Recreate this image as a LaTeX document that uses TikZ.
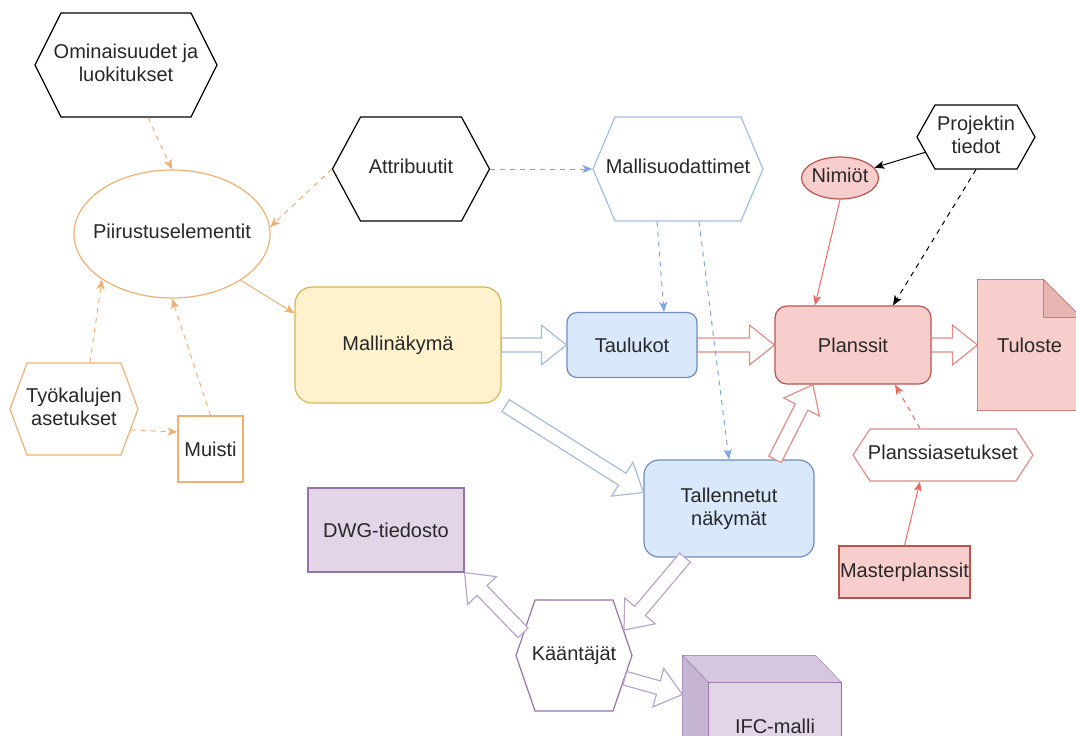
\documentclass[tikz,border=0pt]{standalone}
\usepackage{fontspec}
\setmainfont{Liberation Sans}
\usetikzlibrary{shapes.geometric,shapes.symbols,arrows.meta,calc,backgrounds}
\definecolor{txt}{RGB}{40,40,40}
\definecolor{orline}{RGB}{240,176,116}
\definecolor{yefill}{RGB}{255,242,204}
\definecolor{yeline}{RGB}{214,182,86}
\definecolor{blfill}{RGB}{218,232,252}
\definecolor{blline}{RGB}{108,142,191}
\definecolor{bllight}{RGB}{160,190,230}
\definecolor{bldash}{RGB}{126,166,224}
\definecolor{blarrow}{RGB}{165,188,218}
\definecolor{refill}{RGB}{248,206,204}
\definecolor{reline}{RGB}{184,84,80}
\definecolor{relight}{RGB}{224,140,136}
\definecolor{reedge}{RGB}{234,107,102}
\definecolor{refold}{RGB}{232,180,178}
\definecolor{pufill}{RGB}{225,213,231}
\definecolor{puline}{RGB}{150,115,166}
\definecolor{pulight}{RGB}{185,165,205}
\definecolor{putop}{RGB}{213,199,222}
\definecolor{puside}{RGB}{198,181,210}

\tikzset{
  every node/.style={text=txt, font=\fontsize{20}{23}\selectfont, align=center, inner sep=0pt},
  hexa/.style={shape=signal, signal to=east and west, signal pointer angle=#1, draw, fill=white},
  roundbox/.style={rectangle, rounded corners=#1, draw},
  dashedge/.style={line width=1pt, dash pattern=on 5pt off 5pt, -{Stealth[length=10pt,width=8pt,inset=2.5pt]}},
  solidedge/.style={line width=1pt, -{Stealth[length=10pt,width=8pt,inset=2.5pt]}},
}
\newcommand{\hextext}[1]{\makebox[0pt]{\begin{tabular}{@{}c@{}}#1\end{tabular}}}
% hollow block arrow: colour, start, end
\newcommand{\flexarrow}[3]{%
  \path (#2) coordinate (fastart) (#3) coordinate (faend);
  \pgfpointdiff{\pgfpointanchor{fastart}{center}}{\pgfpointanchor{faend}{center}}%
  \pgfgetlastxy{\fadx}{\fady}%
  \pgfmathsetmacro{\faang}{atan2(\fady,\fadx)}%
  \pgfmathsetmacro{\falen}{veclen(\fadx,\fady)}%
  \draw[#1, fill=white, line width=1.2pt, shift={(fastart)}, rotate=\faang]
    (0pt,-7pt) -- ({\falen pt-25pt},-7pt) -- ({\falen pt-25pt},-20pt) -- (\falen pt,0pt)
    -- ({\falen pt-25pt},20pt) -- ({\falen pt-25pt},7pt) -- (0pt,7pt) -- cycle;
}

\begin{document}
\begin{tikzpicture}[x=1pt, y=-1pt, line width=1.2pt]
\useasboundingbox (0,0) rectangle (1076,736);

\node[hexa=126.9, minimum width=182, minimum height=104] (omin) at (126,65) {\hextext{Ominaisuudet ja\\luokitukset}};
\node[ellipse, draw=orline, fill=white, minimum width=196, minimum height=128] (piir) at (172,234) {\hextext{Piirustuselementit}};
\node[hexa=123.4, minimum width=157, minimum height=104] (attr) at (411,169) {\hextext{Attribuutit}};
\node[hexa=134.1, draw=bllight, minimum width=170, minimum height=104] (malls) at (678,169) {\hextext{Mallisuodattimet}};
\node[roundbox=17, draw=yeline, fill=yefill, minimum width=206, minimum height=116] (malli) at (398,345) {Mallinäkymä};
\node[roundbox=10, draw=blline, fill=blfill, minimum width=130, minimum height=65] (taul) at (632,345) {Taulukot};
\node[roundbox=12, draw=reline, fill=refill, minimum width=156, minimum height=78] (plans) at (853,345) {Planssit};
\node[minimum width=103, minimum height=130] (tulo) at (1029.5,345) {Tuloste};
\node[ellipse, draw=reline, fill=refill, minimum width=77, minimum height=42] (nimi) at (840,178) {\hextext{Nimiöt}};
\node[hexa=121.3, minimum width=118, minimum height=64] (proj) at (976,137) {\hextext{Projektin\\tiedot}};
\node[hexa=139.4, draw=orline, minimum width=128, minimum height=92] (tyok) at (74,409) {\hextext{Työkalujen\\asetukset}};
\node[rectangle, draw=orline, fill=white, minimum width=65, minimum height=66] (muis) at (210.5,449) {Muisti};
\node[roundbox=15, draw=blline, fill=blfill, minimum width=170, minimum height=97] (tall) at (729,508.5) {Tallennetut\\näkymät};
\node[rectangle, draw=puline, fill=pufill, minimum width=156, minimum height=84] (dwg) at (386,530) {DWG-tiedosto};
\node[hexa=142.2, draw=puline, minimum width=116, minimum height=111] (kaan) at (574,655.5) {\hextext{Kääntäjät}};
\node[minimum width=132, minimum height=87] (ifc) at (775,726.5) {IFC-malli};
\node[hexa=113.6, draw=relight, minimum width=180, minimum height=52] (plas) at (943,455) {\hextext{Planssiasetukset}};
\node[rectangle, draw=reline, fill=refill, minimum width=131, minimum height=52] (mast) at (904.5,572) {\makebox[0pt]{Masterplanssit}};

\begin{scope}[on background layer]
  \draw[reline, fill=refill] (tulo.north west) -- ($(tulo.north east)+(-38,0)$) -- ($(tulo.north east)+(0,38)$) -- (tulo.south east) -- (tulo.south west) -- cycle;
  \draw[reline, fill=refold] ($(tulo.north east)+(-38,0)$) -- ($(tulo.north east)+(-38,38)$) -- ($(tulo.north east)+(0,38)$) -- cycle;
  \draw[puline, fill=pufill] (ifc.north west) rectangle (ifc.south east);
  \draw[puline, fill=putop] (ifc.north west) -- ++(-26,-27) -- ($(ifc.north east)+(-26,-27)$) -- (ifc.north east) -- cycle;
  \draw[puline, fill=puside] (ifc.north west) -- ++(-26,-27) -- ($(ifc.south west)+(-26,-27)$) -- (ifc.south west) -- cycle;
\end{scope}

\flexarrow{blarrow}{malli.east}{taul.west}
\flexarrow{relight}{taul.east}{plans.west}
\flexarrow{relight}{plans.east}{tulo.west}
\flexarrow{blarrow}{$(malli.south east)+(4,2)$}{$(tall.west)+(0,-16)$}
\flexarrow{relight}{$(tall.north)+(46,0)$}{$(plans.south)+(-40,0)$}
\flexarrow{pulight}{$(tall.south)+(-44,0)$}{kaan.27}
\flexarrow{pulight}{kaan.156}{dwg.south east}
\flexarrow{pulight}{kaan.-24}{$(ifc.west)+(-26,-32)$}

\draw[orline, dashedge] ($(omin.south)+(22,0)$) -- (piir.north);
\draw[orline, dashedge] (attr.west) -- (piir.4);
\draw[bldash, dashedge] (attr.east) -- (malls.west);
\draw[bldash, dashedge] ($(malls.south)+(-21,0)$) -- ($(taul.north)+(32,0)$);
\draw[bldash, dashedge] ($(malls.south)+(21,0)$) -- (tall.north);
\draw[orline, solidedge] (piir.-34) -- (malli.163);
\draw[orline, dashedge] ($(tyok.north)+(16,0)$) -- (piir.213);
\draw[orline, dashedge] (muis.north) -- (piir.south);
\draw[orline, dashedge] ($(tyok.east)+(-8,21)$) -- ($(muis.west)+(0,-17)$);
\draw[reedge, solidedge] (nimi.south) -- ($(plans.north)+(-38,0)$);
\draw[black, solidedge] (proj) -- (nimi);
\draw[black, dashedge] (proj.south) -- ($(plans.north)+(40,0)$);
\draw[reedge, dashedge] ($(plas.north)+(-23,0)$) -- ($(plans.south)+(42,0)$);
\draw[reedge, solidedge] (mast.north) -- ($(plas.south)+(-23,0)$);
\end{tikzpicture}
\end{document}
